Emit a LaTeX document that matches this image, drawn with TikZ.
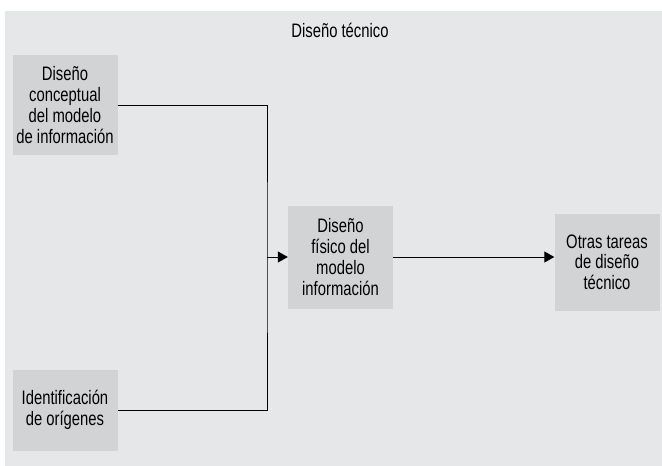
\documentclass[tikz,border=0pt]{standalone}
\usepackage{fontspec}
\setmainfont{Liberation Sans}[FakeStretch=0.76]
\usepackage{tikz}
\usetikzlibrary{arrows.meta}
\definecolor{dt_panel}{RGB}{230, 231, 232}
\definecolor{dt_box}{RGB}{209, 211, 212}
\tikzstyle{txt}=[font=\fontsize{19.5}{20.7}\selectfont,align=center,inner sep=0pt]
\tikzstyle{gb}=[txt,fill=dt_box,minimum width=105pt]
\tikzstyle{ln}=[line width=1pt,draw=black]
\tikzstyle{arr}=[ln,-{Triangle[length=10pt,width=11pt]}]
\tikzstyle{none}=[]

\begin{document}
\begin{tikzpicture}[x=1pt,y=-1pt]
		\useasboundingbox (0, 0) rectangle (662, 466);
		\fill [dt_panel] (5, 11) rectangle (662, 466);
		\node [style=txt] (0) at (340, 30) {Diseño técnico};
		\node [style=gb, minimum height=100pt] (1) at (65, 105) {Diseño\\conceptual\\del modelo\\de información};
		\node [style=gb, minimum height=81pt] (2) at (65, 410) {Identificación\\de orígenes};
		\node [style=gb, minimum height=103pt] (3) at (340.5, 257) {Diseño\\físico del\\modelo\\información};
		\node [style=gb, minimum height=97pt] (4) at (607, 262) {Otras tareas\\de diseño\\técnico};
		\coordinate (5) at (267, 257);
		\draw [style=ln] (1.east) -| (5) |- (2.east);
		\draw [style=arr] (5) to (3.west);
		\draw [style=arr] (3.east) to (3.east -| 4.west);
\end{tikzpicture}
\end{document}
